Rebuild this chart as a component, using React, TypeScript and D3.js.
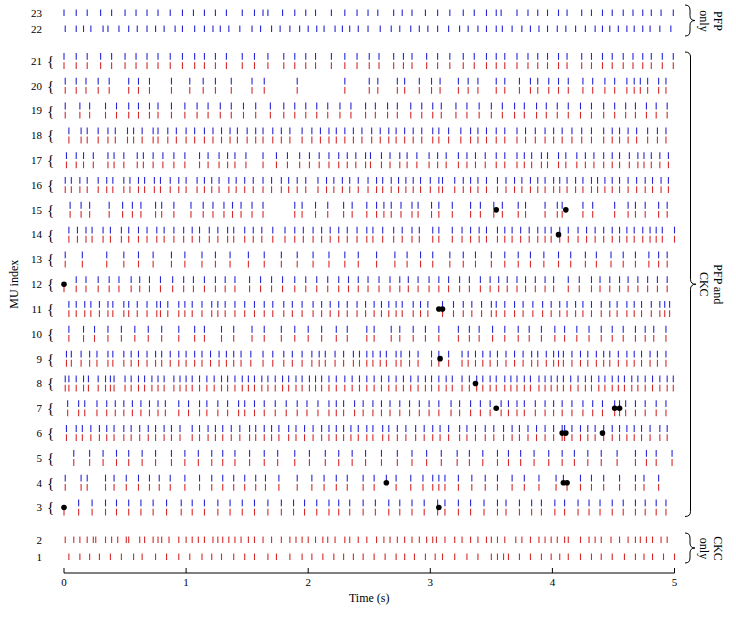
import React from 'react'
import * as d3 from 'd3'

const mu23 = [0.00, 0.10, 0.19, 0.30, 0.39, 0.50, 0.59, 0.68, 0.77, 0.87, 0.97, 1.06, 1.15, 1.24, 1.33, 1.46, 1.56, 1.63, 1.67, 1.79, 1.89, 1.98, 2.06, 2.19, 2.30, 2.40, 2.49, 2.57, 2.70, 2.77, 2.85, 2.96, 3.06, 3.16, 3.27, 3.36, 3.46, 3.54, 3.58, 3.71, 3.80, 3.88, 3.96, 4.05, 4.12, 4.24, 4.32, 4.41, 4.49, 4.58, 4.66, 4.74, 4.81, 4.89, 4.99]
const mu22 = [0.01, 0.10, 0.16, 0.22, 0.32, 0.36, 0.45, 0.53, 0.60, 0.68, 0.75, 0.82, 0.91, 0.97, 1.07, 1.15, 1.22, 1.28, 1.35, 1.44, 1.54, 1.61, 1.70, 1.77, 1.85, 1.93, 2.00, 2.07, 2.13, 2.22, 2.28, 2.34, 2.41, 2.49, 2.59, 2.68, 2.75, 2.84, 2.91, 2.98, 3.06, 3.15, 3.24, 3.31, 3.39, 3.46, 3.54, 3.59, 3.67, 3.75, 3.82, 3.89, 3.96, 4.04, 4.11, 4.19, 4.27, 4.35, 4.41, 4.47, 4.54, 4.61, 4.67, 4.74, 4.80, 4.88, 4.97]
const mu21 = [0.00, 0.10, 0.19, 0.30, 0.39, 0.50, 0.59, 0.68, 0.77, 0.87, 0.97, 1.07, 1.15, 1.24, 1.33, 1.46, 1.56, 1.67, 1.80, 1.89, 1.98, 2.06, 2.19, 2.30, 2.40, 2.50, 2.58, 2.70, 2.78, 2.85, 2.97, 3.06, 3.16, 3.27, 3.36, 3.46, 3.54, 3.61, 3.71, 3.80, 3.88, 3.96, 4.05, 4.12, 4.24, 4.32, 4.41, 4.49, 4.58, 4.66, 4.74, 4.81, 4.90, 4.99]
const mu20 = [0.01, 0.10, 0.18, 0.28, 0.37, 0.53, 0.61, 0.70, 0.88, 1.03, 1.14, 1.24, 1.37, 1.54, 1.64, 1.91, 2.30, 2.50, 2.57, 2.73, 2.79, 2.91, 3.01, 3.08, 3.23, 3.31, 3.39, 3.54, 3.61, 3.73, 3.82, 3.88, 3.97, 4.05, 4.13, 4.25, 4.33, 4.43, 4.51, 4.61, 4.67, 4.72, 4.78, 4.87, 4.93]
const mu19 = [0.01, 0.13, 0.21, 0.34, 0.43, 0.53, 0.61, 0.70, 0.77, 0.88, 0.99, 1.09, 1.18, 1.28, 1.37, 1.47, 1.57, 1.69, 1.80, 1.89, 1.98, 2.07, 2.16, 2.26, 2.35, 2.47, 2.55, 2.65, 2.73, 2.84, 2.93, 3.02, 3.09, 3.21, 3.30, 3.40, 3.50, 3.59, 3.69, 3.77, 3.87, 3.95, 4.04, 4.13, 4.23, 4.32, 4.42, 4.51, 4.60, 4.68, 4.77, 4.85, 4.94]
const mu18 = [0.04, 0.14, 0.19, 0.28, 0.36, 0.42, 0.52, 0.57, 0.64, 0.73, 0.77, 0.85, 0.92, 1.00, 1.07, 1.15, 1.22, 1.29, 1.36, 1.42, 1.50, 1.57, 1.63, 1.71, 1.78, 1.85, 1.95, 2.03, 2.10, 2.17, 2.23, 2.30, 2.37, 2.44, 2.52, 2.59, 2.66, 2.72, 2.79, 2.86, 2.93, 3.02, 3.07, 3.15, 3.25, 3.33, 3.39, 3.46, 3.54, 3.61, 3.71, 3.78, 3.86, 3.94, 4.01, 4.08, 4.16, 4.24, 4.32, 4.42, 4.49, 4.55, 4.62, 4.69, 4.78, 4.86, 4.93]
const mu17 = [0.02, 0.10, 0.16, 0.24, 0.36, 0.41, 0.49, 0.60, 0.65, 0.73, 0.81, 0.90, 0.99, 1.11, 1.18, 1.27, 1.34, 1.40, 1.49, 1.63, 1.74, 1.83, 1.93, 2.01, 2.09, 2.17, 2.25, 2.32, 2.39, 2.47, 2.51, 2.60, 2.67, 2.75, 2.81, 2.89, 2.99, 3.06, 3.13, 3.23, 3.30, 3.37, 3.45, 3.54, 3.61, 3.71, 3.77, 3.83, 3.91, 3.96, 4.05, 4.11, 4.20, 4.27, 4.34, 4.42, 4.49, 4.55, 4.63, 4.70, 4.75, 4.81, 4.88, 4.95]
const mu16 = [0.01, 0.06, 0.13, 0.19, 0.28, 0.35, 0.40, 0.49, 0.54, 0.61, 0.66, 0.74, 0.79, 0.87, 0.94, 1.00, 1.09, 1.15, 1.21, 1.27, 1.35, 1.41, 1.48, 1.55, 1.63, 1.70, 1.78, 1.84, 1.91, 1.98, 2.08, 2.15, 2.21, 2.28, 2.34, 2.41, 2.49, 2.56, 2.61, 2.68, 2.74, 2.80, 2.86, 2.92, 3.00, 3.07, 3.10, 3.20, 3.27, 3.33, 3.39, 3.46, 3.55, 3.62, 3.69, 3.75, 3.82, 3.88, 3.94, 4.01, 4.06, 4.12, 4.19, 4.25, 4.32, 4.37, 4.43, 4.49, 4.55, 4.62, 4.69, 4.76, 4.82, 4.89, 4.95]
const mu15 = [0.05, 0.14, 0.21, 0.37, 0.48, 0.56, 0.63, 0.75, 0.80, 0.90, 1.04, 1.14, 1.22, 1.31, 1.38, 1.45, 1.54, 1.63, 1.89, 1.95, 2.06, 2.16, 2.29, 2.36, 2.48, 2.56, 2.62, 2.68, 2.76, 2.85, 2.90, 3.01, 3.07, 3.18, 3.33, 3.41, 3.52, 3.59, 3.72, 3.78, 3.94, 4.04, 4.08, 4.25, 4.33, 4.51, 4.62, 4.68, 4.76, 4.87, 4.94]
const mu14 = [0.04, 0.11, 0.18, 0.23, 0.32, 0.38, 0.47, 0.53, 0.61, 0.68, 0.76, 0.82, 0.90, 0.98, 1.05, 1.11, 1.19, 1.26, 1.34, 1.39, 1.48, 1.55, 1.62, 1.71, 1.81, 1.89, 1.96, 2.04, 2.11, 2.18, 2.25, 2.32, 2.40, 2.48, 2.53, 2.61, 2.70, 2.77, 2.85, 2.91, 3.02, 3.07, 3.18, 3.26, 3.33, 3.40, 3.46, 3.55, 3.61, 3.67, 3.74, 3.81, 3.88, 3.94, 3.99, 4.06, 4.13, 4.21, 4.28, 4.35, 4.42, 4.49, 4.55, 4.61, 4.67, 4.74, 4.80, 4.85, 4.90, 5.00]
const mu13 = [0.01, 0.15, 0.35, 0.49, 0.61, 0.73, 0.88, 0.99, 1.13, 1.24, 1.36, 1.51, 1.64, 1.78, 1.91, 2.04, 2.17, 2.30, 2.41, 2.56, 2.71, 2.81, 2.92, 3.02, 3.16, 3.27, 3.37, 3.50, 3.61, 3.72, 3.82, 3.93, 4.05, 4.15, 4.27, 4.36, 4.48, 4.58, 4.68, 4.79, 4.87, 4.94]
const mu12 = [0.10, 0.18, 0.28, 0.37, 0.45, 0.55, 0.62, 0.70, 0.79, 0.89, 0.98, 1.06, 1.15, 1.24, 1.32, 1.40, 1.52, 1.61, 1.70, 1.79, 1.89, 1.98, 2.07, 2.16, 2.25, 2.33, 2.41, 2.49, 2.58, 2.67, 2.75, 2.82, 2.90, 2.99, 3.07, 3.15, 3.24, 3.32, 3.41, 3.49, 3.56, 3.63, 3.71, 3.78, 3.86, 3.94, 4.01, 4.13, 4.22, 4.32, 4.39, 4.47, 4.55, 4.62, 4.70, 4.78, 4.86, 4.94]
const mu12Red = [0.00, ...mu12]
const mu11 = [0.04, 0.10, 0.17, 0.22, 0.29, 0.36, 0.40, 0.49, 0.53, 0.60, 0.68, 0.76, 0.79, 0.85, 0.94, 0.99, 1.05, 1.13, 1.21, 1.26, 1.32, 1.40, 1.48, 1.56, 1.64, 1.71, 1.80, 1.87, 1.95, 2.04, 2.11, 2.18, 2.25, 2.32, 2.40, 2.47, 2.54, 2.60, 2.66, 2.72, 2.77, 2.86, 2.92, 2.98, 3.10, 3.19, 3.27, 3.34, 3.42, 3.50, 3.54, 3.61, 3.69, 3.76, 3.84, 3.92, 3.99, 4.06, 4.12, 4.19, 4.25, 4.32, 4.40, 4.47, 4.53, 4.61, 4.67, 4.73, 4.81, 4.88, 4.92, 4.96]
const mu10 = [0.04, 0.16, 0.25, 0.36, 0.47, 0.58, 0.69, 0.80, 0.94, 1.07, 1.15, 1.29, 1.39, 1.54, 1.64, 1.78, 1.89, 2.00, 2.11, 2.23, 2.32, 2.48, 2.54, 2.68, 2.75, 2.86, 2.96, 3.07, 3.23, 3.32, 3.40, 3.51, 3.61, 3.72, 3.81, 3.91, 4.02, 4.10, 4.20, 4.30, 4.40, 4.49, 4.58, 4.68, 4.76, 4.83, 4.93]
const mu9 = [0.02, 0.06, 0.14, 0.21, 0.27, 0.36, 0.40, 0.49, 0.55, 0.61, 0.68, 0.75, 0.80, 0.87, 0.94, 1.00, 1.07, 1.13, 1.20, 1.27, 1.33, 1.39, 1.45, 1.53, 1.63, 1.71, 1.80, 1.87, 1.95, 2.03, 2.09, 2.14, 2.22, 2.29, 2.37, 2.42, 2.48, 2.53, 2.59, 2.64, 2.72, 2.76, 2.83, 2.90, 3.01, 3.07, 3.15, 3.26, 3.31, 3.37, 3.43, 3.49, 3.55, 3.62, 3.69, 3.76, 3.83, 3.88, 3.95, 4.01, 4.05, 4.09, 4.16, 4.23, 4.29, 4.36, 4.42, 4.47, 4.54, 4.61, 4.67, 4.73, 4.80, 4.86, 4.93]
const mu8 = [0.01, 0.04, 0.10, 0.16, 0.20, 0.28, 0.34, 0.38, 0.41, 0.50, 0.55, 0.61, 0.66, 0.72, 0.77, 0.82, 0.90, 0.95, 1.00, 1.05, 1.11, 1.17, 1.23, 1.29, 1.34, 1.40, 1.46, 1.51, 1.56, 1.62, 1.67, 1.73, 1.79, 1.84, 1.90, 1.95, 2.01, 2.06, 2.11, 2.17, 2.23, 2.30, 2.36, 2.42, 2.48, 2.54, 2.60, 2.66, 2.72, 2.78, 2.84, 2.90, 2.96, 3.01, 3.07, 3.13, 3.18, 3.26, 3.32, 3.38, 3.43, 3.49, 3.54, 3.61, 3.66, 3.71, 3.77, 3.82, 3.89, 3.94, 3.99, 4.04, 4.09, 4.15, 4.21, 4.27, 4.32, 4.38, 4.43, 4.49, 4.54, 4.59, 4.65, 4.70, 4.76, 4.82, 4.88, 4.94, 4.99]
const mu7 = [0.03, 0.12, 0.17, 0.27, 0.35, 0.42, 0.49, 0.56, 0.63, 0.70, 0.77, 0.83, 0.94, 1.02, 1.11, 1.17, 1.26, 1.34, 1.43, 1.48, 1.56, 1.64, 1.73, 1.82, 1.91, 1.99, 2.08, 2.17, 2.23, 2.29, 2.38, 2.45, 2.53, 2.60, 2.67, 2.75, 2.83, 2.91, 2.99, 3.07, 3.17, 3.24, 3.33, 3.41, 3.49, 3.58, 3.64, 3.71, 3.77, 3.86, 3.94, 4.01, 4.08, 4.16, 4.25, 4.33, 4.41, 4.51, 4.55, 4.60, 4.68, 4.76, 4.85, 4.93]
const mu6 = [0.02, 0.10, 0.15, 0.22, 0.29, 0.35, 0.41, 0.49, 0.55, 0.62, 0.69, 0.75, 0.82, 0.88, 0.95, 1.05, 1.11, 1.18, 1.24, 1.30, 1.37, 1.44, 1.52, 1.57, 1.64, 1.70, 1.76, 1.84, 1.90, 1.97, 2.04, 2.11, 2.17, 2.23, 2.29, 2.35, 2.41, 2.48, 2.53, 2.61, 2.66, 2.73, 2.80, 2.88, 2.95, 3.02, 3.08, 3.15, 3.24, 3.30, 3.37, 3.45, 3.52, 3.60, 3.67, 3.73, 3.80, 3.87, 3.94, 4.01, 4.08, 4.10, 4.16, 4.23, 4.29, 4.35, 4.42, 4.49, 4.55, 4.61, 4.67, 4.73, 4.80, 4.88, 4.94]
const mu5 = [0.08, 0.21, 0.32, 0.43, 0.53, 0.64, 0.75, 0.88, 0.99, 1.10, 1.21, 1.30, 1.40, 1.52, 1.64, 1.75, 1.89, 2.01, 2.14, 2.25, 2.36, 2.47, 2.60, 2.73, 2.85, 2.97, 3.09, 3.22, 3.32, 3.43, 3.55, 3.64, 3.74, 3.85, 3.97, 4.08, 4.18, 4.29, 4.40, 4.53, 4.68, 4.77, 4.85, 4.98]
const mu4Blue = [0.01, 0.14, 0.19, 0.34, 0.41, 0.51, 0.61, 0.70, 0.78, 0.87, 0.99, 1.11, 1.21, 1.30, 1.39, 1.48, 1.57, 1.65, 1.76, 1.91, 2.03, 2.13, 2.23, 2.32, 2.45, 2.54, 2.64, 2.72, 2.84, 2.94, 3.02, 3.07, 3.12, 3.23, 3.34, 3.45, 3.55, 3.67, 3.77, 3.89, 4.03, 4.09, 4.23, 4.32, 4.42, 4.55, 4.68, 4.75, 4.87]
const mu4Red = [0.01, 0.14, 0.19, 0.34, 0.41, 0.51, 0.61, 0.70, 0.78, 0.87, 0.99, 1.11, 1.21, 1.30, 1.39, 1.48, 1.57, 1.65, 1.76, 1.91, 2.03, 2.13, 2.23, 2.32, 2.45, 2.54, 2.72, 2.84, 2.94, 3.02, 3.07, 3.12, 3.23, 3.34, 3.45, 3.55, 3.67, 3.77, 3.89, 4.03, 4.12, 4.23, 4.32, 4.42, 4.55, 4.68, 4.75, 4.87]
const mu3 = [0.12, 0.23, 0.34, 0.43, 0.53, 0.63, 0.73, 0.84, 0.96, 1.05, 1.15, 1.26, 1.36, 1.46, 1.56, 1.67, 1.78, 1.88, 1.97, 2.07, 2.17, 2.25, 2.34, 2.45, 2.55, 2.66, 2.75, 2.85, 2.95, 3.06, 3.12, 3.23, 3.33, 3.44, 3.55, 3.62, 3.73, 3.83, 3.91, 4.02, 4.10, 4.21, 4.30, 4.39, 4.49, 4.58, 4.68, 4.76, 4.85, 4.93]
const mu3Red = [0.00, ...mu3]
const mu2 = [0.01, 0.08, 0.13, 0.19, 0.24, 0.26, 0.34, 0.39, 0.44, 0.51, 0.53, 0.62, 0.66, 0.73, 0.77, 0.80, 0.86, 0.94, 1.00, 1.05, 1.10, 1.15, 1.22, 1.26, 1.30, 1.35, 1.40, 1.45, 1.51, 1.56, 1.63, 1.70, 1.78, 1.85, 1.90, 1.95, 2.00, 2.06, 2.12, 2.16, 2.22, 2.30, 2.34, 2.41, 2.48, 2.56, 2.62, 2.67, 2.73, 2.79, 2.85, 2.91, 2.97, 3.02, 3.05, 3.12, 3.20, 3.26, 3.33, 3.39, 3.46, 3.50, 3.55, 3.61, 3.70, 3.75, 3.82, 3.89, 3.94, 3.99, 4.04, 4.10, 4.13, 4.23, 4.30, 4.35, 4.40, 4.48, 4.55, 4.62, 4.68, 4.72, 4.77, 4.82, 4.89, 4.94]
const mu1 = [0.04, 0.13, 0.21, 0.29, 0.38, 0.47, 0.57, 0.64, 0.75, 0.84, 0.94, 1.03, 1.13, 1.21, 1.29, 1.39, 1.48, 1.56, 1.67, 1.74, 1.85, 1.95, 2.03, 2.12, 2.21, 2.29, 2.37, 2.45, 2.54, 2.63, 2.72, 2.79, 2.87, 2.96, 3.04, 3.10, 3.20, 3.30, 3.39, 3.50, 3.55, 3.60, 3.64, 3.73, 3.82, 3.91, 3.99, 4.06, 4.13, 4.23, 4.32, 4.40, 4.49, 4.59, 4.68, 4.75, 4.82, 4.91, 5.00]

// black markers (MU, time)
const dotMU = [15, 15, 14, 12, 11, 11, 9, 8, 7, 7, 7, 6, 6, 6, 4, 4, 4, 3, 3]
const dotTime = [3.54, 4.11, 4.05, 0.00, 3.07, 3.10, 3.08, 3.37, 3.54, 4.51, 4.55, 4.08, 4.11, 4.41, 2.64, 4.09, 4.12, 0.00, 3.07]

const xTicks = [0, 1, 2, 3, 4, 5]

// [MU, blue spikes (PFP), red spikes (CKC)]
const pfpRows = [[23, mu23], [22, mu22]]
const bothRows = [
  [21, mu21, mu21], [20, mu20, mu20], [19, mu19, mu19], [18, mu18, mu18], [17, mu17, mu17],
  [16, mu16, mu16], [15, mu15, mu15], [14, mu14, mu14], [13, mu13, mu13], [12, mu12, mu12Red],
  [11, mu11, mu11], [10, mu10, mu10], [9, mu9, mu9], [8, mu8, mu8], [7, mu7, mu7],
  [6, mu6, mu6], [5, mu5, mu5], [4, mu4Blue, mu4Red], [3, mu3, mu3Red],
]
const ckcRows = [[2, mu2], [1, mu1]]

const BLUE = '#2626d6'
const RED = '#d62a2a'
const FONT = '"Liberation Serif", "Times New Roman", serif'

const x = d3.scaleLinear().domain([0, 5]).range([64, 674.5])
const yTop = d3.scaleLinear().domain([23, 22]).range([13, 29])
const yMid = d3.scaleLinear().domain([21, 3]).range([61, 507.5])
const yBot = d3.scaleLinear().domain([2, 1]).range([540, 557])
const yOf = (mu: number) => (mu >= 22 ? yTop(mu) : mu >= 3 ? yMid(mu) : yBot(mu))

// right-pointing curly brace
function brace(x0: number, y0: number, y1: number, w: number) {
  const m = (y0 + y1) / 2
  const q = Math.min(5, (y1 - y0) / 6)
  const xm = x0 + w / 2
  return `M${x0},${y0} Q${xm},${y0} ${xm},${y0 + q} L${xm},${m - q} Q${xm},${m} ${x0 + w},${m} ` +
    `Q${xm},${m} ${xm},${m + q} L${xm},${y1 - q} Q${xm},${y1} ${x0},${y1}`
}

const Spikes = ({ times, y0, y1, color }) => (
  <g stroke={color} strokeWidth={1.1}>
    {times.map((t, i) => (
      <line key={i} x1={x(t)} x2={x(t)} y1={y0} y2={y1} />
    ))}
  </g>
)

const SideLabel = ({ cx, cy, lines }) => (
  <text transform={`translate(${cx},${cy}) rotate(90)`} textAnchor="middle" fontSize={12} fontFamily={FONT}>
    {lines.map((l, i) => (
      <tspan key={i} x={0} dy={i === 0 ? 0 : 14}>{l}</tspan>
    ))}
  </text>
)

export default function App() {
  const axisY = 573
  return (
    <svg width={736} height={618} style={{ position: 'absolute', left: 0, top: 0, background: '#fff' }}
      fontFamily={FONT}>
      {pfpRows.map(([mu, times]) => (
        <g key={mu}>
          <Spikes times={times} y0={yOf(mu) - 3.5} y1={yOf(mu) + 3} color={BLUE} />
          <text x={42} y={yOf(mu)} dy="0.35em" textAnchor="end" fontSize={11}>{mu}</text>
        </g>
      ))}
      {bothRows.map(([mu, blue, red]) => (
        <g key={mu}>
          <Spikes times={blue} y0={yOf(mu) - 8} y1={yOf(mu) - 1.2} color={BLUE} />
          <Spikes times={red} y0={yOf(mu) + 1.2} y1={yOf(mu) + 8} color={RED} />
          <text x={42} y={yOf(mu)} dy="0.35em" textAnchor="end" fontSize={11}>{mu}</text>
          <text x={47} y={yOf(mu)} dy="0.33em" fontSize={15}>{'{'}</text>
        </g>
      ))}
      {ckcRows.map(([mu, times]) => (
        <g key={mu}>
          <Spikes times={times} y0={yOf(mu) - 3.5} y1={yOf(mu) + 3} color={RED} />
          <text x={42} y={yOf(mu)} dy="0.35em" textAnchor="end" fontSize={11}>{mu}</text>
        </g>
      ))}
      {dotTime.map((t, i) => (
        <circle key={i} cx={x(t)} cy={yOf(dotMU[i])} r={2.8} fill="#000" />
      ))}

      {/* x axis */}
      <line x1={x(0)} x2={x(5)} y1={axisY} y2={axisY} stroke="#000" />
      {xTicks.map(t => (
        <g key={t}>
          <line x1={x(t)} x2={x(t)} y1={axisY} y2={axisY - 5} stroke="#000" />
          <text x={x(t)} y={axisY + 13} textAnchor="middle" fontSize={11}>{t}</text>
        </g>
      ))}
      <text x={(x(0) + x(5)) / 2} y={axisY + 29} textAnchor="middle" fontSize={12}>Time (s)</text>
      <text transform={`translate(18,${yMid(12)}) rotate(-90)`} textAnchor="middle" fontSize={12}>MU index</text>

      {/* group braces */}
      <g fill="none" stroke="#000" strokeWidth={1}>
        <path d={brace(685, yTop(23) - 8, yTop(22) + 7, 10)} />
        <path d={brace(685, yMid(21) - 9, yMid(3) + 9, 11)} />
        <path d={brace(685, yBot(2) - 7, yBot(1) + 6, 10)} />
      </g>
      <SideLabel cx={714} cy={(yTop(23) + yTop(22)) / 2} lines={['PFP', 'only']} />
      <SideLabel cx={714} cy={(yMid(21) + yMid(3)) / 2} lines={['PFP and', 'CKC']} />
      <SideLabel cx={714} cy={(yBot(2) + yBot(1)) / 2} lines={['CKC', 'only']} />
    </svg>
  )
}
